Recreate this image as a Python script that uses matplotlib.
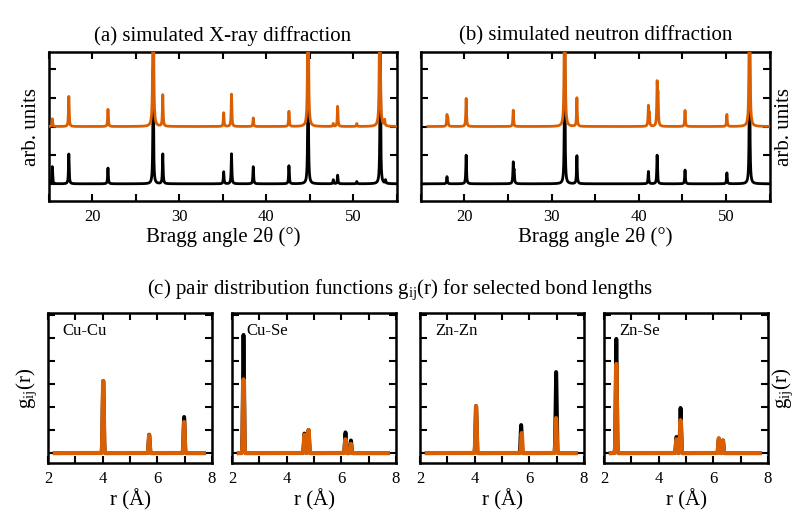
import numpy as np
import matplotlib
matplotlib.use("Agg")
import matplotlib.pyplot as plt
from matplotlib.ticker import MultipleLocator, NullFormatter

plt.rcParams['font.family'] = ['Liberation Serif', 'DejaVu Serif']
plt.rcParams['mathtext.fontset'] = 'custom'
plt.rcParams['mathtext.rm'] = 'Liberation Serif'
plt.rcParams['mathtext.it'] = 'Liberation Serif'

ORANGE = '#d95f02'
BLACK = '#000000'

# ---------------- data: diffraction peaks (position in 2theta, height) ----------------
xrd_black_pos = [15.4, 17.3, 21.8, 27.0, 28.1, 35.1, 36.0, 38.5, 42.6, 44.8, 47.7, 48.2, 50.4, 53.1, 53.7]
xrd_black_h   = [0.60, 1.04, 0.55, 4.0, 1.04, 0.42, 1.05, 0.60, 0.63, 5.0, 0.14, 0.30, 0.08, 5.0, 0.12]
xrd_orange_pos = [15.4, 17.3, 21.8, 27.0, 28.1, 35.1, 36.0, 38.5, 42.6, 44.8, 47.7, 48.2, 50.4, 53.05, 53.6]
xrd_orange_h   = [0.27, 1.05, 0.60, 8.0, 1.10, 0.48, 1.13, 0.30, 0.53, 8.0, 0.10, 0.70, 0.10, 8.0, 0.20]

neu_black_pos = [18.0, 20.2, 25.6, 25.7, 31.5, 32.9, 41.1, 42.1, 45.3, 50.1, 52.7]
neu_black_h   = [0.25, 1.00, 0.70, 0.40, 5.0, 0.98, 0.43, 1.00, 0.48, 0.38, 5.0]
neu_orange_pos = [18.0, 18.1, 20.2, 25.6, 31.5, 32.9, 41.1, 41.2, 42.1, 42.2, 45.3, 50.1, 52.7]
neu_orange_h   = [0.38, 0.25, 0.98, 0.57, 8.0, 1.00, 0.67, 0.40, 1.43, 1.00, 0.56, 0.42, 8.0]

# ---------------- data: pair distribution peaks (r in Angstrom, height) ----------------
pdf_labels = ['Cu-Cu', 'Cu-Se', 'Zn-Zn', 'Zn-Se']
pdf_black_pos = [[4.02, 5.70, 6.98],
                 [2.42, 4.65, 4.80, 6.15, 6.35],
                 [4.05, 5.70, 6.98],
                 [2.45, 4.65, 4.80, 6.20, 6.35]]
pdf_black_h = [[3.13, 0.80, 1.57],
               [5.13, 0.85, 1.00, 0.90, 0.55],
               [2.04, 1.22, 3.52],
               [4.96, 0.70, 1.96, 0.60, 0.55]]
pdf_orange_pos = [[4.02, 5.70, 6.98],
                  [2.42, 4.65, 4.80, 6.15, 6.35],
                  [4.05, 5.72, 6.98],
                  [2.45, 4.65, 4.80, 6.20, 6.35]]
pdf_orange_h = [[3.13, 0.78, 1.35],
                [3.20, 0.80, 1.00, 0.60, 0.40],
                [2.04, 0.87, 1.52],
                [3.87, 0.60, 1.43, 0.65, 0.55]]


def lorentz_profile(x, pos, h, gamma=0.045):
    y = np.zeros_like(x)
    for p, a in zip(pos, h):
        y += a * gamma**2 / ((x - p)**2 + gamma**2)
    return y


def gauss_profile(x, pos, h, sigma=0.02):
    y = np.zeros_like(x)
    for p, a in zip(pos, h):
        y += a * np.exp(-0.5 * ((x - p) / sigma)**2)
    return y


fig = plt.figure(figsize=(8.0, 5.12), dpi=100)

SPINE_W = 1.8
TICK_FS = 12
LABEL_FS = 15
TITLE_FS = 15


def style_axes(ax):
    for s in ax.spines.values():
        s.set_linewidth(SPINE_W)
    ax.tick_params(which='both', direction='in', top=True, right=True,
                   width=1.5, labelsize=TICK_FS, length=5)


# ---------------- top panels ----------------
two_theta = np.linspace(15.0, 55.0, 8000)

top_specs = [
    ([0.061, 0.6074, 0.435, 0.291], '(a) simulated X-ray diffraction',
     xrd_black_pos, xrd_black_h, xrd_orange_pos, xrd_orange_h, 'left', 15.0),
    ([0.526, 0.6074, 0.436, 0.291], '(b) simulated neutron diffraction',
     neu_black_pos, neu_black_h, neu_orange_pos, neu_orange_h, 'right', 15.8),
]
for rect, title, bp, bh, op, oh, ylabpos, xstart in top_specs:
    ax = fig.add_axes(rect)
    xb = two_theta
    xo = two_theta[two_theta >= xstart]
    ax.plot(xb, lorentz_profile(xb, bp, bh), color=BLACK, lw=2.0, zorder=2)
    ax.plot(xo, 2.0 + lorentz_profile(xo, op, oh), color=ORANGE, lw=2.0, zorder=3)
    ax.set_xlim(15, 55)
    ax.set_ylim(-0.6, 4.6)
    ax.xaxis.set_major_locator(MultipleLocator(10))
    ax.xaxis.set_minor_locator(MultipleLocator(5))
    ax.yaxis.set_major_locator(MultipleLocator(1))
    ax.yaxis.set_major_formatter(NullFormatter())
    style_axes(ax)
    ax.tick_params(axis='x', pad=6)
    ax.set_xlabel('Bragg angle 2θ (°)', fontsize=LABEL_FS, labelpad=1)
    ax.set_title(title, fontsize=TITLE_FS, pad=8)
    if ylabpos == 'right':
        ax.yaxis.set_label_position('right')
        ax.set_ylabel('arb. units', fontsize=LABEL_FS, labelpad=4)
    else:
        ax.set_ylabel('arb. units', fontsize=LABEL_FS, labelpad=2)

# ---------------- bottom panels ----------------
r = np.linspace(2.25, 7.7, 5000)
lefts = [48, 232, 420, 604]
for i, lab in enumerate(pdf_labels):
    ax = fig.add_axes([lefts[i] / 800, 0.0957, 164 / 800, 0.293])
    ax.plot(r, gauss_profile(r, pdf_black_pos[i], pdf_black_h[i]), color=BLACK, lw=2.8, zorder=2)
    ax.plot(r, gauss_profile(r, pdf_orange_pos[i], pdf_orange_h[i]), color=ORANGE, lw=3.0, zorder=3)
    ax.set_xlim(2, 8)
    ax.set_ylim(-0.43, 6.08)
    ax.xaxis.set_major_locator(MultipleLocator(2))
    ax.xaxis.set_minor_locator(MultipleLocator(1))
    ax.yaxis.set_major_locator(MultipleLocator(1))
    ax.yaxis.set_major_formatter(NullFormatter())
    style_axes(ax)
    ax.tick_params(axis='x', pad=6)
    ax.set_xlabel('r (Å)', fontsize=LABEL_FS, labelpad=1)
    ax.text(0.09, 0.88, lab, transform=ax.transAxes, fontsize=12, ha='left', va='center')
    if i == 0:
        ax.set_ylabel(r'g$_{\mathrm{ij}}$(r)', fontsize=LABEL_FS, labelpad=3)
    if i == 3:
        ax.yaxis.set_label_position('right')
        ax.set_ylabel(r'g$_{\mathrm{ij}}$(r)', fontsize=LABEL_FS, labelpad=2)

fig.text(0.5, 1 - 290 / 512, r'(c) pair distribution functions g$_{\mathrm{ij}}$(r) for selected bond lengths',
         ha='center', va='center', fontsize=TITLE_FS)

fig.savefig('out.png', dpi=100)
